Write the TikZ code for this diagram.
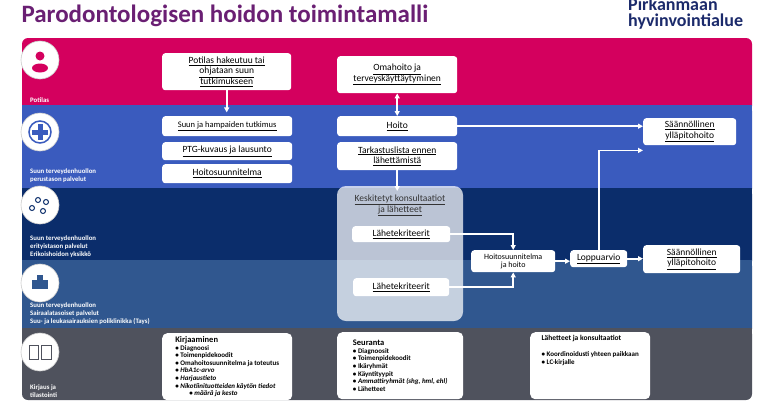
\documentclass[tikz,border=0pt]{standalone}
\usepackage{fontspec}
\setmainfont{Carlito}
\usetikzlibrary{arrows.meta, positioning}

\definecolor{potpink}{HTML}{D4005E}
\definecolor{perblue}{HTML}{3A5BBE}
\definecolor{erinavy}{HTML}{0B2D6B}
\definecolor{saisteel}{HTML}{30578F}
\definecolor{kirgray}{HTML}{4F525D}
\definecolor{titlepurple}{HTML}{6A1F73}
\definecolor{logonavy}{HTML}{1B2A6B}

\newcommand{\ul}[1]{\underline{#1}}

\begin{document}
\begin{tikzpicture}[
    x=1pt, y=-1pt,
    >={Triangle[width=5pt,length=5pt]},
    band/.style={rounded corners=6pt, draw=none},
    bandlabel/.style={anchor=south west, font={\bfseries\fontsize{6.8}{8.3}\selectfont}, text=white, align=left, inner sep=0pt},
    icon/.style={circle, fill=white, draw=gray!40, line width=0.6pt, minimum size=38pt},
    box/.style={fill=white, rounded corners=3pt, anchor=north west, align=center, inner sep=1pt, font={\fontsize{9.5}{10.5}\selectfont}},
    listbox/.style={fill=white, rounded corners=5pt, anchor=north west, align=left, inner sep=3pt, font={\fontsize{7}{7.6}\selectfont\bfseries}},
    flow/.style={->, white, line width=1.6pt},
  ]
  \useasboundingbox (0,0) rectangle (760,400);
  \fill[white] (0,0) rectangle (760,400);

  % title and logo
  \node[anchor=west, text=titlepurple, font={\bfseries\fontsize{25}{28}\selectfont}] (title) at (18,16) {Parodontologisen hoidon toimintamalli};
  \node[anchor=north west, text=logonavy, align=left, font={\bfseries\fontsize{18}{16}\selectfont}, inner sep=0pt] (logo) at (628,-2) {Pirkanmaan\\hyvinvointialue};

  % bands
  \fill[band, potpink] (22,38) rectangle (752,112);
  \fill[band, perblue] (22,105) rectangle (752,195);
  \fill[band, erinavy] (22,188) rectangle (752,267);
  \fill[band, saisteel] (22,260) rectangle (752,335);
  \fill[band, kirgray] (22,328) rectangle (752,400);
  \fill[perblue] (22,105) rectangle (752,112);
  \fill[erinavy] (22,188) rectangle (752,195);
  \fill[saisteel] (22,260) rectangle (752,267);
  \fill[kirgray] (22,328) rectangle (752,335);

  \node[bandlabel] (lpot) at (30,103) {Potilas};
  \node[bandlabel] (lper) at (30,183) {Suun terveydenhuollon\\perustason palvelut};
  \node[bandlabel] (leri) at (30,258) {Suun terveydenhuollon\\erityistason palvelut\\Erikoishoidon yksikkö};
  \node[bandlabel] (lsai) at (30,325) {Suun terveydenhuollon\\Sairaalatasoiset palvelut\\Suu- ja leukasairauksien poliklinikka (Tays)};
  \node[bandlabel] (lkir) at (30,398) {Kirjaus ja\\tilastointi};

  % icons
  \node[icon] (ipot) at (40,60) {};
  \fill[potpink] ([yshift=4pt]ipot.center) circle (4.5pt);
  \fill[potpink] ([yshift=-8pt]ipot.center) ellipse (8pt and 4.5pt);
  \node[icon] (iper) at (40,132) {};
  \node[circle, draw=perblue, line width=1.5pt, minimum size=22pt] at (iper) {};
  \fill[perblue] (iper) ++(-2.5,-8) rectangle ++(5,16);
  \fill[perblue] (iper) ++(-8,-2.5) rectangle ++(16,5);
  \node[icon] (ieri) at (40,205) {};
  \foreach \p in {(-8,3),(-2,-5),(6,-3),(3,6)}
    \draw[erinavy, line width=1pt] (ieri) ++\p circle (2.5pt);
  \node[icon] (isai) at (40,283) {};
  \fill[saisteel] (isai) ++(-8,-3) rectangle ++(16,9);
  \fill[saisteel] (isai) ++(-3,-8) rectangle ++(6,6);
  \node[icon] (ikir) at (40,352) {};
  \draw[kirgray, line width=0.8pt] (ikir) ++(-11,-7) rectangle ++(9,14);
  \draw[kirgray, line width=0.8pt] (ikir) ++(1,-7) rectangle ++(10,14);

  % central panel
  \fill[white, opacity=0.72, rounded corners=9pt] (337,186) rectangle (463,321);
  \node[anchor=north, align=center, font={\fontsize{9.5}{11}\selectfont}, text=black!80] (kesk) at (400,191) {\ul{Keskitetyt konsultaatiot}\\\ul{ja lähetteet}};

  % boxes
  \node[box, minimum width=129pt, minimum height=37pt] (ptut) at (162,53) {\ul{Potilas hakeutuu tai}\\\ul{ohjataan suun}\\\ul{tutkimukseen}};
  \node[box, minimum width=120pt, minimum height=37pt] (omah) at (337,56) {\ul{Omahoito ja}\\\ul{terveyskäyttäytyminen}};
  \node[box, minimum width=130pt, minimum height=20pt, font={\fontsize{8.5}{9}\selectfont}] (tutk) at (162,116) {\ul{Suun ja hampaiden tutkimus}};
  \node[box, minimum width=130pt, minimum height=18pt] (ptg) at (162,142) {\ul{PTG-kuvaus ja lausunto}};
  \node[box, minimum width=130pt, minimum height=19pt] (hsu) at (162,164) {\ul{Hoitosuunnitelma}};
  \node[box, minimum width=120pt, minimum height=20pt] (hoito) at (337,116) {\ul{Hoito}};
  \node[box, minimum width=120pt, minimum height=28pt] (tark) at (337,142) {\ul{Tarkastuslista ennen}\\\ul{lähettämistä}};
  \node[box, minimum width=98pt, minimum height=16pt] (lah1) at (352,226) {\ul{Lähetekriteerit}};
  \node[box, minimum width=96pt, minimum height=18pt] (lah2) at (353,278) {\ul{Lähetekriteerit}};
  \node[box, minimum width=84pt, minimum height=22pt, font={\fontsize{8}{8.5}\selectfont}] (hoja) at (471,250) {Hoitosuunnitelma\\ja hoito};
  \node[box, minimum width=57pt, minimum height=17pt] (lopp) at (570,250) {\ul{Loppuarvio}};
  \node[box, minimum width=93pt, minimum height=27pt] (sy1) at (643,118) {\ul{Säännöllinen}\\\ul{ylläpitohoito}};
  \node[box, minimum width=97pt, minimum height=28pt] (sy2) at (643,245) {\ul{Säännöllinen}\\\ul{ylläpitohoito}};

  % bottom lists
  \node[listbox, minimum width=130pt, minimum height=67pt] (kirj) at (162,333) {{\fontsize{8.5}{9}\selectfont Kirjaaminen}\\
    • Diagnoosi\\ • Toimenpidekoodit\\ • Omahoitosuunnitelma ja toteutus\\
    • \textit{HbA1c-arvo}\\ • \textit{Harjaustieto}\\ • \textit{Nikotiinituotteiden käytön tiedot}\\
    \hspace{14pt}• \textit{määrä ja kesto}};
  \node[listbox, minimum width=126pt, minimum height=67pt] (seur) at (337,332) {{\fontsize{8.5}{9}\selectfont Seuranta}\\
    • Diagnoosit\\ • Toimenpidekoodit\\ • Ikäryhmät\\ • Käyntityypit\\
    • \textit{Ammattiryhmät (shg, hml, ehl)}\\ • Lähetteet};
  \node[listbox, minimum width=120pt, minimum height=67pt] (lako) at (530,332) {{\fontsize{7.5}{8}\selectfont Lähetteet ja konsultaatiot}\\[8pt]
    • Koordinoidusti yhteen paikkaan\\ • LC-kirjalle\\[24pt]};

  % connectors
  \draw[flow] (ptut.south) -- ++(0,22);
  \draw[flow, <->] (omah.south) -- (hoito.north);
  \draw[flow] (hoito.east) -- (sy1.west |- hoito.east);
  \draw[flow] (tark.south) -- (tark.south |- kesk.north);
  \draw[flow] (lah1.east) -| (hoja.north);
  \draw[flow] (lah2.east) -| (hoja.south);
  \draw[flow] (hoja.east) -- (lopp.west |- hoja.east);
  \draw[flow] (lopp.east) -- (sy2.west |- lopp.east);
  \draw[flow] (lopp.north) |- ([yshift=-5pt]sy1.south west);
\end{tikzpicture}
\end{document}
